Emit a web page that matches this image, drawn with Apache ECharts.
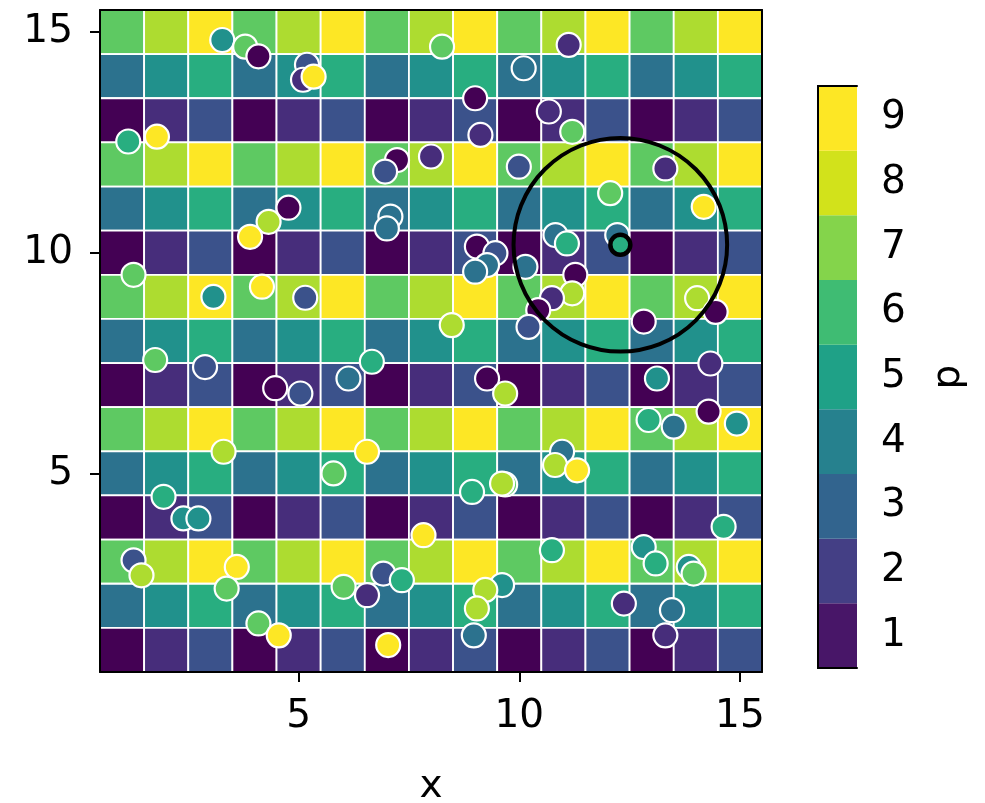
<!DOCTYPE html>
<html>
<head>
<meta charset="utf-8">
<script src="https://cdn.jsdelivr.net/npm/echarts@6/dist/echarts.min.js"></script>
<style>
html, body { margin: 0; padding: 0; background: #fff; }
#chart { width: 985px; height: 803px; }
</style>
</head>
<body>
<div id="chart"></div>
<script>
// grid cell values, one row per y, from y=15 (top) down to y=1
var heatRows = [
    [7, 8, 9, 7, 8, 9, 7, 8, 9, 7, 8, 9, 7, 8, 9],
    [4, 5, 6, 4, 5, 6, 4, 5, 6, 4, 5, 6, 4, 5, 6],
    [1, 2, 3, 1, 2, 3, 1, 2, 3, 1, 2, 3, 1, 2, 3],
    [7, 8, 9, 7, 8, 9, 7, 8, 9, 7, 8, 9, 7, 8, 9],
    [4, 5, 6, 4, 5, 6, 4, 5, 6, 4, 5, 6, 4, 5, 6],
    [1, 2, 3, 1, 2, 3, 1, 2, 3, 1, 2, 3, 1, 2, 3],
    [7, 8, 9, 7, 8, 9, 7, 8, 9, 7, 8, 9, 7, 8, 9],
    [4, 5, 6, 4, 5, 6, 4, 5, 6, 4, 5, 6, 4, 5, 6],
    [1, 2, 3, 1, 2, 3, 1, 2, 3, 1, 2, 3, 1, 2, 3],
    [7, 8, 9, 7, 8, 9, 7, 8, 9, 7, 8, 9, 7, 8, 9],
    [4, 5, 6, 4, 5, 6, 4, 5, 6, 4, 5, 6, 4, 5, 6],
    [1, 2, 3, 1, 2, 3, 1, 2, 3, 1, 2, 3, 1, 2, 3],
    [7, 8, 9, 7, 8, 9, 7, 8, 9, 7, 8, 9, 7, 8, 9],
    [4, 5, 6, 4, 5, 6, 4, 5, 6, 4, 5, 6, 4, 5, 6],
    [1, 2, 3, 1, 2, 3, 1, 2, 3, 1, 2, 3, 1, 2, 3]
];

// colours for p = 1..9 (cells and points)
var heatColors = ["#440154", "#472d7b", "#3b528b", "#2c728e", "#21918c",
                  "#28ae80", "#5ec962", "#addc30", "#fde725"];
// colours of the colour bar levels
var barColors = ["#481668", "#443f85", "#32648e", "#26818e", "#1fa187",
                 "#3fbc73", "#84d44b", "#d2e21b", "#fde725"];
var levels = ["1", "2", "3", "4", "5", "6", "7", "8", "9"];
var axisTicks = [5, 10, 15];

// scattered points
var pointX = [3.27, 3.79, 4.09, 5.19, 5.10, 5.34, 8.25, 11.12, 10.10, 9.00,
              10.67, 11.20, 9.12, 1.14, 1.79, 8.00, 7.23, 6.96, 9.99, 13.31,
              12.06, 14.18, 4.77, 4.32, 3.90, 7.08, 7.00, 10.82, 11.08, 12.22,
              9.04, 9.46, 9.27, 9.00, 10.14, 11.27, 11.20, 10.74, 10.43, 14.03,
              14.45, 12.82, 10.21, 8.47, 1.26, 3.07, 4.17, 5.15, 1.75, 2.88,
              4.47, 5.04, 6.13, 6.66, 3.30, 6.55, 5.79, 1.94, 2.39, 2.73,
              7.83, 1.26, 1.44, 3.60, 3.37, 6.02, 6.55, 6.92, 7.34, 4.09,
              4.55, 7.03, 9.27, 9.68, 13.12, 14.33, 14.29, 12.93, 13.50, 14.93,
              10.97, 10.81, 11.31, 9.68, 9.61, 8.93, 14.63, 10.74, 12.82, 13.09,
              13.84, 13.95, 9.61, 9.23, 9.04, 12.37, 13.46, 8.97, 13.31];
var pointY = [14.82, 14.67, 14.45, 14.26, 13.92, 13.99, 14.67, 14.71, 14.18, 13.50,
              13.20, 12.74, 12.67, 12.52, 12.63, 12.18, 12.10, 11.84, 11.95, 11.91,
              11.35, 11.04, 11.02, 10.70, 10.36, 10.82, 10.55, 10.40, 10.21, 10.40,
              10.14, 9.99, 9.72, 9.57, 9.68, 9.50, 9.08, 8.97, 8.70, 8.97,
              8.66, 8.44, 8.32, 8.36, 9.50, 9.00, 9.23, 8.98, 7.57, 7.41,
              6.93, 6.81, 7.15, 7.53, 5.49, 5.49, 5.00, 4.47, 3.98, 3.98,
              3.60, 3.03, 2.69, 2.88, 2.39, 2.43, 2.24, 2.73, 2.58, 1.60,
              1.33, 1.11, 7.15, 6.81, 7.15, 7.49, 6.40, 6.21, 6.06, 6.13,
              5.49, 5.19, 5.07, 4.75, 4.77, 4.58, 3.79, 3.26, 3.33, 2.96,
              2.88, 2.73, 2.47, 2.36, 1.94, 2.05, 1.90, 1.33, 1.33];
var pointP = [5, 7, 1, 3, 2, 9, 7, 2, 4, 1,
              2, 7, 2, 6, 9, 2, 1, 3, 3, 2,
              7, 9, 1, 8, 9, 4, 4, 4, 6, 4,
              1, 3, 4, 4, 4, 1, 8, 2, 1, 8,
              1, 1, 3, 8, 7, 5, 9, 3, 7, 3,
              1, 3, 4, 6, 8, 9, 7, 6, 5, 5,
              9, 3, 8, 9, 7, 7, 2, 3, 6, 7,
              9, 9, 1, 8, 5, 2, 1, 6, 4, 5,
              4, 8, 9, 7, 8, 6, 6, 6, 5, 6,
              5, 7, 5, 8, 8, 2, 4, 4, 2];

// highlighted point and the circle round it
var circleCenter = [12.29, 10.18];
var circleRadius = 2.42;
var centerP = 6;

var font = "DejaVu Sans";

var heatData = [];
for (var r = 0; r < heatRows.length; r++) {
    for (var c = 0; c < heatRows[r].length; c++) {
        heatData.push([c + 1, heatRows.length - r, heatRows[r][c]]);
    }
}

var pointData = [];
for (var i = 0; i < pointX.length; i++) {
    pointData.push([pointX[i], pointY[i], pointP[i]]);
}

function renderCell(params, api) {
    var p0 = api.coord([api.value(0) - 0.5, api.value(1) + 0.5]);
    var s = api.size([1, 1]);
    return {
        type: "rect",
        shape: { x: p0[0], y: p0[1], width: s[0], height: s[1] },
        style: { fill: heatColors[api.value(2) - 1], stroke: "#fff", lineWidth: 1.8 }
    };
}

function renderCircle(params, api) {
    var c = api.coord([api.value(0), api.value(1)]);
    var rr = api.size([api.value(2), 0])[0];
    return {
        type: "circle",
        shape: { cx: c[0], cy: c[1], r: rr },
        style: { fill: "none", stroke: "#000", lineWidth: 4 }
    };
}

var spine = { show: true, lineStyle: { color: "#000", width: 2 } };
var noTick = { show: false };

var myChart = echarts.init(document.getElementById("chart"));
myChart.setOption({
    animation: false,
    textStyle: { fontFamily: font },
    grid: [
        { left: 100, top: 10, width: 662, height: 662, outerBoundsMode: "none" },
        { left: 818, top: 86, width: 39, height: 582, outerBoundsMode: "none" }
    ],
    xAxis: [{
        gridIndex: 0, type: "value", min: 0.5, max: 15.5, position: "bottom", z: 10,
        axisLine: spine,
        axisTick: { customValues: axisTicks, length: 10, lineStyle: { color: "#000", width: 2 } },
        axisLabel: { customValues: axisTicks, fontSize: 39, color: "#000", margin: 25, fontFamily: font },
        splitLine: { show: false },
        name: "x", nameLocation: "middle", nameGap: 95,
        nameTextStyle: { fontSize: 39, color: "#000", fontFamily: font }
    }, {
        gridIndex: 0, type: "value", min: 0.5, max: 15.5, position: "top", z: 10,
        axisLine: spine, axisTick: noTick, axisLabel: noTick, splitLine: { show: false }
    }, {
        gridIndex: 1, type: "value", min: 0, max: 1, position: "bottom", z: 10,
        axisLine: spine, axisTick: noTick, axisLabel: noTick, splitLine: { show: false }
    }, {
        gridIndex: 1, type: "value", min: 0, max: 1, position: "top", z: 10,
        axisLine: spine, axisTick: noTick, axisLabel: noTick, splitLine: { show: false }
    }],
    yAxis: [{
        gridIndex: 0, type: "value", min: 0.5, max: 15.5, position: "left", z: 10,
        axisLine: spine,
        axisTick: { customValues: axisTicks, length: 10, lineStyle: { color: "#000", width: 2 } },
        axisLabel: { customValues: axisTicks, fontSize: 39, color: "#000", margin: 27, fontFamily: font },
        splitLine: { show: false }
    }, {
        gridIndex: 0, type: "value", min: 0.5, max: 15.5, position: "right", z: 10,
        axisLine: spine, axisTick: noTick, axisLabel: noTick, splitLine: { show: false }
    }, {
        gridIndex: 1, type: "category", data: levels, position: "left", z: 10,
        axisLine: spine, axisTick: noTick, axisLabel: noTick, splitLine: { show: false }
    }, {
        gridIndex: 1, type: "category", data: levels, position: "right", z: 10,
        axisLine: spine, axisTick: noTick,
        axisLabel: { fontSize: 39, color: "#000", margin: 24, fontFamily: font },
        splitLine: { show: false },
        name: "p", nameLocation: "middle", nameGap: 72, nameRotate: 90,
        nameTextStyle: { fontSize: 39, color: "#000", fontFamily: font }
    }],
    series: [{
        type: "custom",
        name: "cells",
        xAxisIndex: 0, yAxisIndex: 0,
        renderItem: renderCell,
        data: heatData,
        silent: true,
        z: 1
    }, {
        type: "scatter",
        name: "points",
        xAxisIndex: 0, yAxisIndex: 0,
        data: pointData,
        symbolSize: 24,
        itemStyle: {
            color: function(p) { return heatColors[p.value[2] - 1]; },
            borderColor: "#fff",
            borderWidth: 2.2,
            opacity: 1
        },
        silent: true,
        z: 3
    }, {
        type: "custom",
        name: "circle",
        xAxisIndex: 0, yAxisIndex: 0,
        renderItem: renderCircle,
        data: [[circleCenter[0], circleCenter[1], circleRadius]],
        silent: true,
        z: 4
    }, {
        type: "scatter",
        name: "center",
        xAxisIndex: 0, yAxisIndex: 0,
        data: [[circleCenter[0], circleCenter[1], centerP]],
        symbolSize: 20,
        itemStyle: {
            color: heatColors[centerP - 1],
            borderColor: "#000",
            borderWidth: 4.5,
            opacity: 1
        },
        silent: true,
        z: 5
    }, {
        type: "bar",
        name: "colorbar",
        xAxisIndex: 2, yAxisIndex: 2,
        data: levels.map(function() { return 1; }),
        barWidth: "100%",
        itemStyle: {
            color: function(p) { return barColors[p.dataIndex]; }
        },
        silent: true,
        z: 2
    }]
});
</script>
</body>
</html>
